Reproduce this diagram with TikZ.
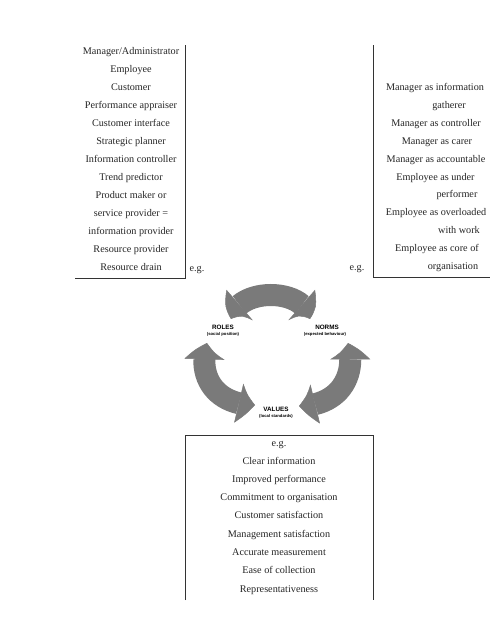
\documentclass[tikz,border=0pt]{standalone}
\usepackage{fontspec}
\setmainfont{Liberation Serif}
\newfontfamily\labfont{Liberation Sans}
\usetikzlibrary{arrows.meta,bending}
\begin{document}
\begin{tikzpicture}[x=1pt,y=1pt,
  txt/.style={font=\fontsize{10.2}{12}\selectfont, text=black!85, inner sep=0pt, text height=7pt, text depth=1pt, anchor=center},
  frame/.style={draw=black!80, line width=0.8pt},
  headlab/.style={font=\labfont\bfseries\fontsize{6.3}{7}\selectfont, inner sep=0pt},
  sublab/.style={font=\labfont\bfseries\fontsize{4.2}{5}\selectfont, inner sep=0pt},
  cyc/.style={draw=black!52, line width=22pt,
    {Triangle[bend,width=40pt,length=17pt,line width=0.5pt]}-{Triangle[bend,width=40pt,length=17pt,line width=0.5pt]}}]
\useasboundingbox[fill=white] (0,0) rectangle (492,-629);

% left box
\coordinate (L1) at (185,-45);
\coordinate (L2) at (185,-278);
\coordinate (L3) at (75,-278);
\draw[frame] (L1) -- (L2) -- (L3);
\foreach \t [count=\i from 0] in {Manager/Administrator,Employee,Customer,Performance appraiser,Customer interface,Strategic planner,Information controller,Trend predictor,Product maker or,service provider =,information provider,Resource provider,Resource drain}
  \node[txt] (l\i) at (131,{-51.7-17.97*\i}) {\t};
\node[txt] (eg1) at (197,-268) {e.g.};

% right box
\coordinate (R1) at (373,-45);
\coordinate (R2) at (373,-277);
\coordinate (R3) at (490,-277);
\draw[frame] (R1) -- (R2) -- (R3);
\node[txt] (r1) at (435,-87) {Manager as information};
\node[txt] (r2) at (449,-105) {gatherer};
\node[txt] (r3) at (436,-123) {Manager as controller};
\node[txt] (r4) at (437,-141) {Manager as carer};
\node[txt] (r5) at (436,-159) {Manager as accountable};
\node[txt] (r6) at (435.5,-177) {Employee as under};
\node[txt] (r7) at (457,-194.5) {performer};
\node[txt] (r8) at (436,-212.5) {Employee as overloaded};
\node[txt] (r9) at (459,-230.5) {with work};
\node[txt] (r10) at (437,-248.5) {Employee as core of};
\node[txt] (r11) at (453,-266) {organisation};
\node[txt] (eg2) at (357,-267.5) {e.g.};

% bottom box
\coordinate (B1) at (185,-600);
\coordinate (B2) at (185,-435);
\coordinate (B3) at (373,-435);
\coordinate (B4) at (373,-600);
\draw[frame] (B1) -- (B2) -- (B3) -- (B4);
\node[txt] (eg3) at (279,-443) {e.g.};
\foreach \t [count=\i from 0] in {Clear information,Improved performance,Commitment to organisation,Customer satisfaction,Management satisfaction,Accurate measurement,Ease of collection,Representativeness}
  \node[txt] (b\i) at (279,{-461-18.3*\i}) {\t};

% cycle arrows
\coordinate (tl) at (231,-319);
\coordinate (tr) at (310,-319);
\coordinate (lt) at (207,-343);
\coordinate (lb) at (255,-405);
\coordinate (rt) at (348,-343);
\coordinate (rb) at (299,-406);
\draw[cyc] (tl) .. controls (237,-287) and (305,-287) .. (tr);
\draw[cyc] (lt) .. controls (197,-376) and (215,-405) .. (lb);
\draw[cyc] (rt) .. controls (357,-376) and (339,-406) .. (rb);

% labels
\node[headlab] (roles) at (223,-327) {ROLES};
\node[sublab] (rolessub) at (223,-334) {(social position)};
\node[headlab] (norms) at (327,-327) {NORMS};
\node[sublab] (normssub) at (325,-334) {(expected behaviour)};
\node[headlab] (values) at (276,-409) {VALUES};
\node[sublab] (valuessub) at (276,-416) {(local standards)};
\end{tikzpicture}
\end{document}
